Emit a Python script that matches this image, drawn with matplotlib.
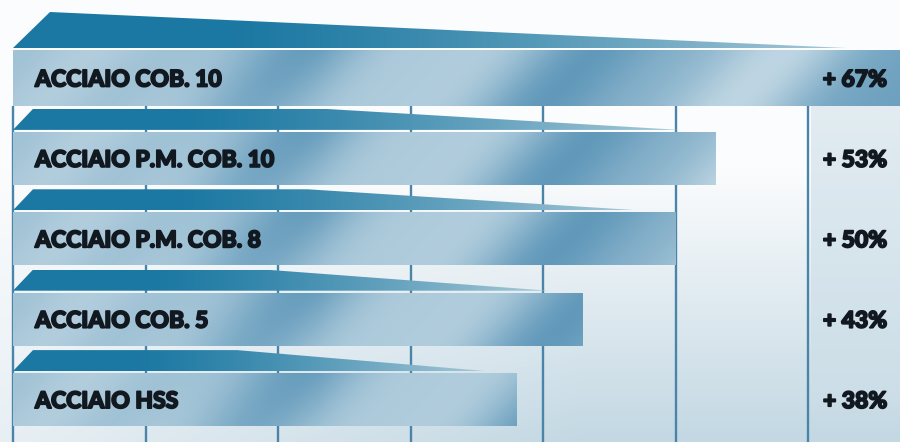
import numpy as np
import matplotlib
matplotlib.use("Agg")
import matplotlib.pyplot as plt
from matplotlib.patches import Polygon
from matplotlib.colors import to_rgb
import matplotlib.patheffects as pe

# ---------------- data ----------------
categories = ["ACCIAIO COB. 10", "ACCIAIO P.M. COB. 10", "ACCIAIO P.M. COB. 8",
              "ACCIAIO COB. 5", "ACCIAIO HSS"]
values = [67, 53, 50, 43, 38]
value_labels = [f"+ {v}%" for v in values]
grid_ticks = [0, 10, 20, 30, 40, 50, 60]

# ---------------- layout / style ----------------
W, H = 900, 442
PX0 = 13.0          # pixel position of 0 %
PX_PER = 13.25      # pixels per 1 %
XMIN = -PX0 / PX_PER
XMAX = (W - PX0) / PX_PER

ROW0, ROW_STEP = 78.0, 80.4
face_half = [28.0, 26.5, 26.5, 26.5, 26.5]
wedge_h = [36.0, 21.0, 21.0, 21.0, 21.0]
wedge_slant_px = [37.0, 20.0, 20.0, 20.0, 20.0]
wedge_flat_frac = [0.0, 0.445, 0.445, 0.445, 0.445]
wedge_tip_gap = [4.1, 2.7, 2.8, 2.6, 2.3]
GAP = 2.0
CAP = 17.0

def px2x(px):
    return (px - PX0) / PX_PER

def x2px(x):
    return PX0 + x * PX_PER

def mix(c1, c2, t):
    c1 = np.array(to_rgb(c1)); c2 = np.array(to_rgb(c2))
    t = np.clip(t, 0, 1)[..., None]
    return c1 * (1 - t) + c2 * t

fig = plt.figure(figsize=(W / 100, H / 100), dpi=100)
ax = fig.add_axes([0, 0, 1, 1])
ax.set_xlim(XMIN, XMAX)
ax.set_ylim(H, 0)
ax.axis("off")

# background
yy, xx = np.mgrid[0:H, 0:W] + 0.5
s = np.clip((yy - 170) / 270, 0, 1) * np.clip(0.35 + xx / 900, 0, 1)
s = np.where(xx > 811, np.maximum(s, 0.45 + 0.45 * np.clip((yy - 110) / 330, 0, 1)), s)
s = np.where(yy < 106, 0.0, s)
bg = mix("#fbfcfd", "#c3d8e3", s)
ax.imshow(bg, extent=(XMIN, XMAX, H, 0), origin="upper", aspect="auto",
          interpolation="bilinear", zorder=0)

# gridlines
ax.vlines(grid_ticks, ymin=106, ymax=H, color="#4a85a9", lw=1.7, zorder=1)

P = 330.0
stroke = [pe.withStroke(linewidth=1.3, foreground="#121820")]
for i, (cat, v, lab) in enumerate(zip(categories, values, value_labels)):
    yc = ROW0 + ROW_STEP * i
    ft, fb = yc - face_half[i], yc + face_half[i]

    # front face with metallic gradient
    x_end_px = x2px(v)
    nx = int(max(2, x_end_px - PX0))
    ny = int(fb - ft)
    gy, gx = np.mgrid[0:ny, 0:nx] + 0.5
    xp = PX0 + gx
    ypix = ft + gy
    u = xp + 0.93 * (ypix - yc)
    ramp = np.clip((xp - 120) / 200, 0, 1)
    t = (0.32 + 0.2 * ramp
         + 0.30 * ramp * np.sin(2 * np.pi * (u - 420) / P - np.pi / 2)
         + 0.06 * np.sin(2 * np.pi * (u - 100) / 140))
    face = mix("#d4e4ec", "#4f8db2", t)
    ax.imshow(face, extent=(0, v, fb, ft), origin="upper", aspect="auto",
              interpolation="bilinear", zorder=2)

    # top wedge (perspective face)
    wb = ft - GAP
    wt = wb - wedge_h[i]
    slant = wedge_slant_px[i] / PX_PER
    tip = v - wedge_tip_gap[i]
    flat = max(slant, wedge_flat_frac[i] * v)
    poly = Polygon([(0, wb), (slant, wt), (flat, wt), (tip, wb)], closed=True,
                   facecolor="none", edgecolor="none", zorder=2)
    ax.add_patch(poly)
    nx2 = int(max(2, x2px(tip) - PX0))
    gx2 = (np.arange(nx2) + 0.5)[None, :].repeat(4, axis=0)
    tw = gx2 / nx2
    wc = mix("#1b78a2", "#a9c9d8", ((np.clip(tw - 0.25, 0, 1) / 0.75) ** 1.3))
    im = ax.imshow(wc, extent=(0, tip, wb, wt), origin="upper", aspect="auto",
                   interpolation="bilinear", zorder=2)
    im.set_clip_path(poly)

    # labels
    base = yc + CAP / 2
    ax.text(px2x(35), base, cat, ha="left", va="baseline", fontsize=16.5,
            family="Lato", fontweight="black", color="#121820", zorder=4,
            path_effects=stroke)
    ax.text(px2x(887), base, lab, ha="right", va="baseline", fontsize=16.5,
            family="Lato", fontweight="black", color="#121820", zorder=4,
            path_effects=stroke)

ax.set_xlim(XMIN, XMAX)
ax.set_ylim(H, 0)
fig.savefig("out.png", dpi=100)
